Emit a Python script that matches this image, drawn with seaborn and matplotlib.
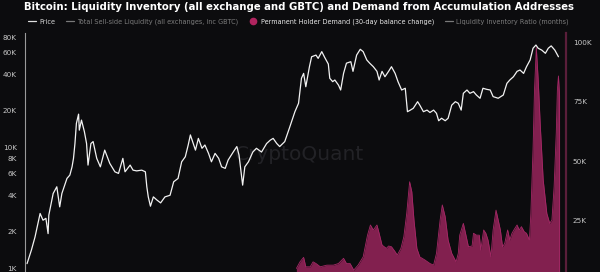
import matplotlib
matplotlib.use("Agg")
import matplotlib.pyplot as plt
from matplotlib.lines import Line2D
from matplotlib.ticker import FixedLocator, FixedFormatter, NullLocator
import seaborn as sns
import pandas as pd

# ---------------- data ----------------
price_years = [2017.25, 2017.31, 2017.36, 2017.43, 2017.47, 2017.51, 2017.54, 2017.55, 2017.61, 2017.66,
               2017.70, 2017.73, 2017.80, 2017.84, 2017.87, 2017.89, 2017.91, 2017.93, 2017.96, 2017.97,
               2018.00, 2018.04, 2018.07, 2018.09, 2018.13, 2018.16, 2018.21, 2018.26, 2018.32, 2018.39,
               2018.46, 2018.51, 2018.57, 2018.60, 2018.67, 2018.71, 2018.76, 2018.83, 2018.88, 2018.90,
               2018.92, 2018.95, 2018.99, 2019.04, 2019.09, 2019.15, 2019.22, 2019.27, 2019.33, 2019.38,
               2019.43, 2019.47, 2019.50, 2019.54, 2019.57, 2019.61, 2019.66, 2019.70, 2019.75, 2019.79,
               2019.84, 2019.89, 2019.93, 2019.98, 2020.02, 2020.09, 2020.14, 2020.17, 2020.22, 2020.25,
               2020.30, 2020.36, 2020.41, 2020.48, 2020.55, 2020.60, 2020.64, 2020.69, 2020.73, 2020.80,
               2020.87, 2020.94, 2020.99, 2021.03, 2021.06, 2021.09, 2021.14, 2021.17, 2021.23, 2021.26,
               2021.31, 2021.35, 2021.40, 2021.42, 2021.46, 2021.49, 2021.54, 2021.57, 2021.61, 2021.65,
               2021.71, 2021.74, 2021.79, 2021.84, 2021.88, 2021.93, 2021.97, 2022.02, 2022.07, 2022.10,
               2022.14, 2022.18, 2022.23, 2022.27, 2022.32, 2022.36, 2022.41, 2022.46, 2022.49, 2022.53,
               2022.57, 2022.63, 2022.66, 2022.71, 2022.76, 2022.80, 2022.85, 2022.89, 2022.92, 2022.96,
               2023.01, 2023.05, 2023.10, 2023.15, 2023.19, 2023.23, 2023.26, 2023.31, 2023.35, 2023.40,
               2023.44, 2023.49, 2023.53, 2023.58, 2023.63, 2023.67, 2023.74, 2023.81, 2023.86, 2023.90,
               2023.95, 2024.00, 2024.04, 2024.09, 2024.13, 2024.18, 2024.22, 2024.26, 2024.29, 2024.34,
               2024.39, 2024.43, 2024.47, 2024.52, 2024.57]
price_k = [1.09, 1.41, 1.81, 2.83, 2.49, 2.58, 1.93, 2.74, 4.14, 4.70,
           3.21, 4.14, 5.51, 5.87, 6.87, 8.07, 10.7, 15.7, 18.7, 13.8,
           16.7, 13.4, 10.7, 7.1, 10.7, 11.1, 8.07, 6.87, 9.44, 7.33,
           6.25, 6.06, 8.07, 6.25, 7.1, 6.45, 6.36, 6.45, 6.25, 4.70,
           3.88, 3.25, 3.88, 3.65, 3.46, 3.88, 4.0, 5.17, 5.51, 7.56,
           8.32, 10.4, 12.6, 10.7, 9.44, 11.8, 9.77, 10.4, 8.87, 7.56,
           8.87, 8.07, 6.87, 6.67, 7.81, 9.1, 10.1, 8.59, 4.85, 6.87,
           7.56, 9.1, 9.77, 9.1, 10.7, 11.4, 11.8, 10.7, 10.1, 11.1,
           14.7, 19.6, 23.0, 37.0, 40.6, 31.5, 46.1, 55.7, 57.5, 54.0,
           61.4, 55.0, 48.5, 37.0, 34.7, 35.8, 32.5, 29.6, 40.6, 49.3,
           50.7, 42.2, 57.5, 64.2, 61.4, 52.4, 49.3, 46.1, 42.2, 35.8,
           42.2, 38.1, 42.2, 46.1, 40.6, 34.7, 29.6, 30.6, 19.6, 20.2,
           20.9, 23.7, 22.2, 19.6, 20.2, 19.3, 20.2, 19.0, 16.5, 17.3,
           16.5, 17.3, 22.2, 23.7, 23.0, 20.2, 27.8, 29.6, 27.8, 28.7,
           26.9, 25.3, 30.6, 30.0, 29.6, 26.1, 25.3, 26.9, 33.6, 35.8,
           38.1, 42.2, 43.3, 40.6, 46.1, 52.4, 65.5, 69.6, 65.5, 63.2,
           59.5, 65.5, 68.5, 63.2, 55.7]

demand_years = [2020.96, 2021.01, 2021.06, 2021.09, 2021.15, 2021.19, 2021.23, 2021.29, 2021.38, 2021.47,
                2021.54, 2021.61, 2021.65, 2021.70, 2021.75, 2021.81, 2021.88, 2021.94, 2021.98, 2022.02,
                2022.07, 2022.10, 2022.14, 2022.20, 2022.23, 2022.27, 2022.32, 2022.35, 2022.40, 2022.44,
                2022.48, 2022.52, 2022.55, 2022.58, 2022.62, 2022.66, 2022.73, 2022.80, 2022.85, 2022.89,
                2022.94, 2022.97, 2023.01, 2023.05, 2023.10, 2023.16, 2023.19, 2023.21, 2023.26, 2023.29,
                2023.33, 2023.38, 2023.40, 2023.44, 2023.48, 2023.50, 2023.54, 2023.57, 2023.60, 2023.64,
                2023.67, 2023.71, 2023.74, 2023.77, 2023.80, 2023.83, 2023.87, 2023.90, 2023.93, 2023.97,
                2024.00, 2024.03, 2024.06, 2024.10, 2024.13, 2024.17, 2024.19, 2024.22, 2024.24, 2024.265,
                2024.29, 2024.32, 2024.36, 2024.41, 2024.45, 2024.48, 2024.51, 2024.54, 2024.555, 2024.57,
                2024.585, 2024.586]
demand_k = [4.5, 7.3, 9.2, 5.2, 5.2, 7.3, 6.6, 5.2, 5.9, 5.9,
            6.6, 8.8, 6.6, 6.6, 3.8, 5.9, 9.4, 18.6, 22.9, 20.8,
            22.9, 19.4, 14.4, 13.0, 14.0, 13.7, 11.6, 10.2, 13.0, 17.9,
            27.8, 41.2, 37.0, 25.0, 13.0, 9.4, 8.1, 6.6, 5.9, 10.9,
            25.0, 31.4, 26.4, 16.5, 10.9, 7.3, 10.9, 18.6, 23.6, 19.4,
            13.7, 14.0, 19.4, 18.6, 18.6, 12.3, 20.8, 19.4, 16.5, 9.4,
            20.8, 29.2, 25.0, 20.8, 13.7, 15.1, 20.8, 16.5, 19.4, 21.5,
            22.9, 20.8, 22.2, 20.0, 19.4, 16.5, 27.8, 55.0, 80.0, 98.0,
            85.0, 65.0, 42.0, 27.8, 23.6, 25.0, 39.0, 62.0, 80.0, 86.0,
            78.0, 0.0]

left_ticks_k = [1, 2, 4, 6, 8, 10, 20, 40, 60, 80]
left_tick_labels = ["1K", "2K", "4K", "6K", "8K", "10K", "20K", "40K", "60K", "80K"]
right_ticks_k = [25, 50, 75, 100]
right_tick_labels = ["25K", "50K", "75K", "100K"]

title = "Bitcoin: Liquidity Inventory (all exchange and GBTC) and Demand from Accumulation Addresses"
legend_labels = ["Price", "Total Sell-side Liquidity (all exchanges, inc GBTC)",
                 "Permanent Holder Demand (30-day balance change)", "Liquidity Inventory Ratio (months)"]

price_df = pd.DataFrame({"year": price_years, "price": price_k})
demand_df = pd.DataFrame({"year": demand_years, "demand": demand_k})

# ---------------- style ----------------
BG = "#0c0c0e"
PINK_FILL = "#82204f"
PINK_EDGE = "#a52866"
sns.set_theme(style="dark")
plt.rcParams["font.family"] = ["DejaVu Sans"]

fig = plt.figure(figsize=(6.0, 2.72), dpi=100, facecolor=BG)
ax = fig.add_axes([25 / 600, 0.0, (566 - 25) / 600, (272 - 33) / 272])
ax.set_facecolor(BG)
ax2 = ax.twinx()

# demand area on right axis (drawn first, behind)
ax2.fill_between(demand_df["year"], 0, demand_df["demand"], color=PINK_FILL, lw=0, zorder=1)
sns.lineplot(data=demand_df, x="year", y="demand", ax=ax2, color=PINK_EDGE, lw=0.6,
             estimator=None, sort=False, zorder=2)
ax2.set_ylim(3.0, 104.2)

# price on left log axis
ax.set_zorder(ax2.get_zorder() + 1)
ax.patch.set_visible(False)
ax2.patch.set_visible(True)
ax2.patch.set_facecolor(BG)
sns.lineplot(data=price_df, x="year", y="price", ax=ax, color="#f2f2f2", lw=0.9,
             estimator=None, sort=False)
ax.set_yscale("log")
ax.set_ylim(0.93, 87.5)
ax.set_xlim(2017.222, 2024.674)

for a in (ax, ax2):
    a.set_xlabel("")
    a.set_ylabel("")
    a.grid(False)
    a.xaxis.set_major_locator(NullLocator())
    a.xaxis.set_minor_locator(NullLocator())
    for s in a.spines.values():
        s.set_visible(False)

ax.yaxis.set_major_locator(FixedLocator(left_ticks_k))
ax.yaxis.set_major_formatter(FixedFormatter(left_tick_labels))
ax.yaxis.set_minor_locator(NullLocator())
ax.tick_params(axis="y", which="both", length=0, pad=6, labelsize=5.2, labelcolor="#c8c8c8")
ax.spines["left"].set_visible(True)
ax.spines["left"].set_color("#9a9a9a")
ax.spines["left"].set_linewidth(0.8)

ax2.yaxis.set_major_locator(FixedLocator(right_ticks_k))
ax2.yaxis.set_major_formatter(FixedFormatter(right_tick_labels))
ax2.tick_params(axis="y", which="both", length=0, pad=5, labelsize=5.2, labelcolor="#c8c8c8")
ax2.spines["right"].set_visible(True)
ax2.spines["right"].set_color("#5a1e3a")
ax2.spines["right"].set_linewidth(1.6)

# watermark
ax2.text(0.508, 0.49, "CryptoQuant", transform=ax2.transAxes, ha="center", va="center",
         fontsize=14.5, color="#222226", zorder=0)

# title
fig.text(0.498, 1 - 9.5 / 272, title, ha="center", va="baseline", color="white",
         fontsize=7.3, fontweight="bold")

# legend
handles = [
    Line2D([0], [0], color="#e0e0e0", lw=0.9),
    Line2D([0], [0], color="#7a7a7a", lw=0.9),
    Line2D([0], [0], marker="o", color="none", markerfacecolor="#b0245f",
           markeredgecolor="#b0245f", markersize=4.5),
    Line2D([0], [0], color="#7a7a7a", lw=0.9),
]
leg = fig.legend(handles, legend_labels, loc="center", bbox_to_anchor=(0.497, 1 - 22 / 272),
                 ncol=4, frameon=False, fontsize=4.7, handlelength=1.3, handletextpad=0.5,
                 columnspacing=1.6, borderaxespad=0)
text_colors = ["#d8d8d8", "#7d7d7d", "#e8e8e8", "#7d7d7d"]
for t, c in zip(leg.get_texts(), text_colors):
    t.set_color(c)

fig.savefig("out.png", dpi=100, facecolor=BG)
